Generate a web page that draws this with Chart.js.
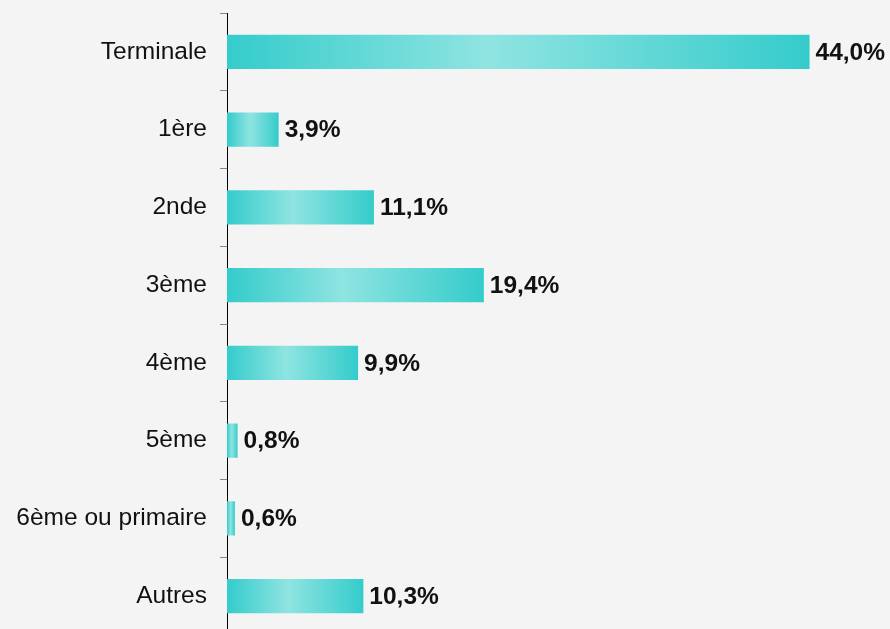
<!DOCTYPE html>
<html>
<head>
<meta charset="utf-8">
<script src="https://cdn.jsdelivr.net/npm/chart.js@4/dist/chart.umd.min.js"></script>
<style>
  html, body { margin: 0; padding: 0; overflow: hidden; background: #f4f4f4; }
  #wrap { width: 890px; height: 640px; position: relative; }
</style>
</head>
<body>
<div id="wrap"><canvas id="myChart"></canvas></div>
<script>
const categories = ['Terminale', '1ère', '2nde', '3ème', '4ème', '5ème', '6ème ou primaire', 'Autres'];
const values = [44.0, 3.9, 11.1, 19.4, 9.9, 0.8, 0.6, 10.3];

const FONT = "'Liberation Sans', Arial, sans-serif";

// horizontal gradient per bar: dark at the ends, light in the middle
const barGradient = (ctx) => {
  const chart = ctx.chart;
  if (!chart.chartArea || ctx.type !== 'data') return '#3ccfcb';
  const x = chart.scales.x;
  const x0 = x.getPixelForValue(0);
  const x1 = x.getPixelForValue(values[ctx.dataIndex]);
  if (x1 - x0 < 1) return '#5fd8d4';
  const g = chart.ctx.createLinearGradient(x0, 0, x1, 0);
  g.addColorStop(0, '#34cccb');
  g.addColorStop(0.45, '#8fe4e1');
  g.addColorStop(1, '#34cccb');
  return g;
};

const valueLabels = {
  id: 'valueLabels',
  afterDatasetsDraw(chart) {
    const ctx = chart.ctx;
    const meta = chart.getDatasetMeta(0);
    ctx.save();
    ctx.font = 'bold 24.5px ' + FONT;
    ctx.fillStyle = '#111';
    ctx.textAlign = 'left';
    ctx.textBaseline = 'middle';
    meta.data.forEach((bar, i) => {
      ctx.fillText(values[i].toFixed(1).replace('.', ',') + '%', bar.x + 6, bar.y + 1);
    });
    ctx.restore();
  }
};

new Chart(document.getElementById('myChart'), {
  type: 'bar',
  data: {
    labels: categories,
    datasets: [{
      data: values,
      backgroundColor: barGradient,
      borderWidth: 0,
      barPercentage: 0.44,
      categoryPercentage: 1
    }]
  },
  options: {
    indexAxis: 'y',
    responsive: true,
    maintainAspectRatio: false,
    animation: false,
    layout: { padding: { top: 13, bottom: 5, left: 0, right: 1 } },
    plugins: {
      legend: { display: false },
      tooltip: { enabled: false }
    },
    scales: {
      x: {
        display: false,
        min: 0,
        max: 50
      },
      y: {
        afterFit: (axis) => {
          axis.width = 227;
          axis.paddingTop = 0;
          axis.paddingBottom = 0;
        },
        grid: {
          offset: true,
          drawOnChartArea: false,
          tickLength: 7,
          color: '#888'
        },
        border: { display: true, color: '#000', width: 1 },
        ticks: {
          color: '#111',
          padding: 13,
          font: { family: FONT, size: 24.5 }
        }
      }
    }
  },
  plugins: [valueLabels]
});
</script>
</body>
</html>
